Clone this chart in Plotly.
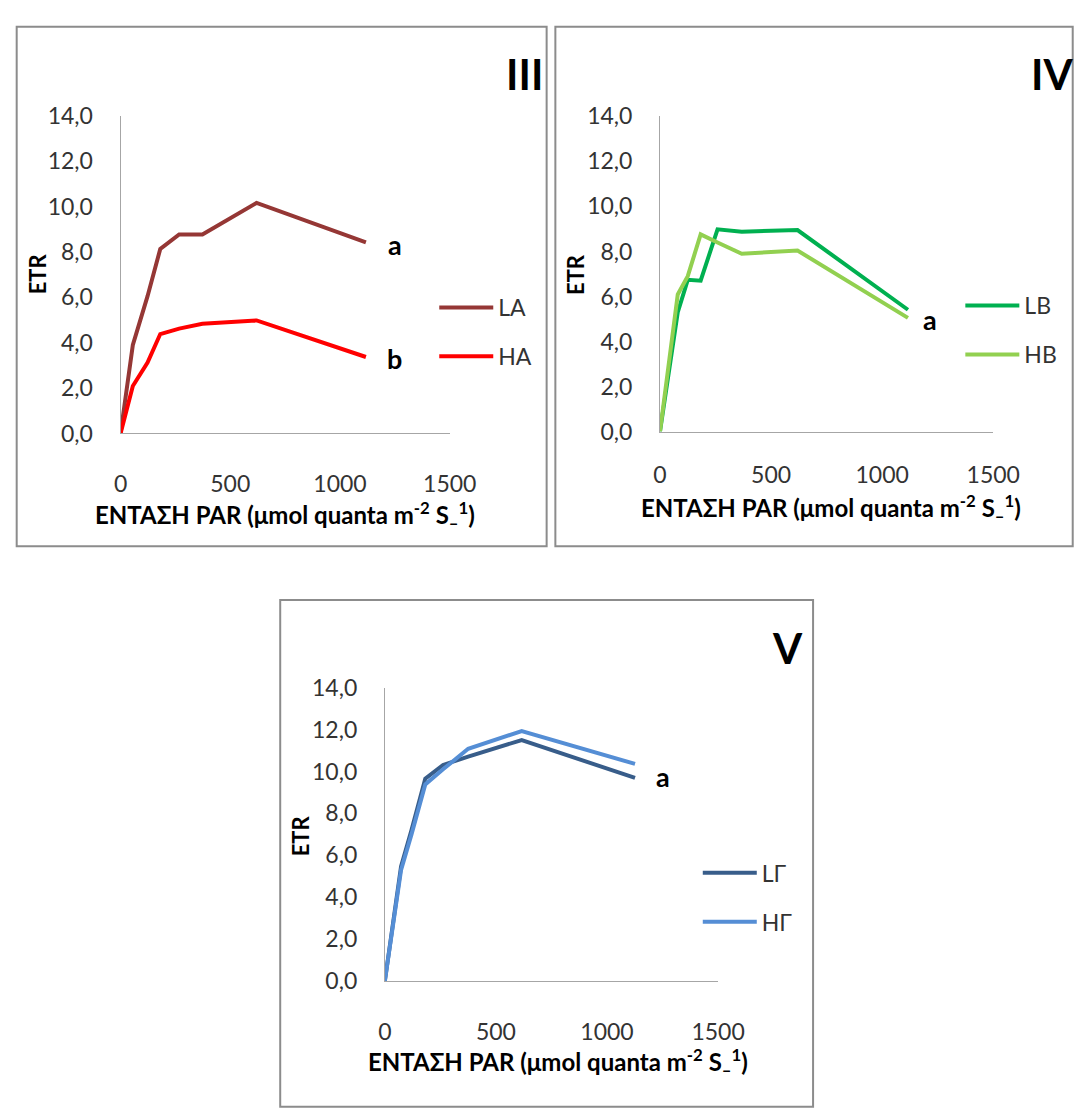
import plotly.graph_objects as go

# ---------------- data ----------------
PAR_III = [0, 56, 123, 181, 267, 373, 620, 1118]
LA = [0, 3.90, 6.05, 8.13, 8.77, 8.77, 10.16, 8.42]
HA = [0, 2.09, 3.12, 4.38, 4.62, 4.83, 4.98, 3.37]

PAR_IV = [0, 80, 125, 183, 259, 368, 619, 1116]
LB = [0, 5.30, 6.74, 6.70, 8.98, 8.88, 8.95, 5.41]
HB = [0, 6.09, 6.90, 8.76, 8.40, 7.90, 8.04, 5.05]

PAR_V = [0, 73, 120, 182, 262, 375, 616, 1126]
LG = [0, 5.47, 7.20, 9.66, 10.31, 10.71, 11.50, 9.69]
HG = [0, 5.30, 7.00, 9.38, 10.10, 11.08, 11.93, 10.36]

X_TICKS = [0, 500, 1000, 1500]
Y_RANGE = [0, 14]
X_RANGE = [0, 1500]

W, H = 1091, 1111
FONT = "Lato, 'Open Sans', 'Noto Sans', sans-serif"


def px(x):
    return x / W


def py(y):
    return 1 - y / H


fig = go.Figure()

series = [
    (PAR_III, LA, "LA", "#953735", "x", "y", "legend"),
    (PAR_III, HA, "HA", "#FF0000", "x", "y", "legend"),
    (PAR_IV, LB, "LB", "#00B050", "x2", "y2", "legend2"),
    (PAR_IV, HB, "HB", "#92D050", "x2", "y2", "legend2"),
    (PAR_V, LG, "LΓ", "#385D8A", "x3", "y3", "legend3"),
    (PAR_V, HG, "HΓ", "#558ED5", "x3", "y3", "legend3"),
]
for xs, ys, name, col, xa, ya, lg in series:
    fig.add_trace(go.Scatter(
        x=xs, y=ys, name=name, mode="lines", xaxis=xa, yaxis=ya,
        legend=lg, legendgroup=name,
        line=dict(color=col, width=4),
        hoverinfo="skip",
    ))

axis_common = dict(showline=True, linecolor="#A6A6A6", linewidth=1,
                   showgrid=False, zeroline=False, ticks="",
                   tickfont=dict(family=FONT, size=23, color="#333333"))

panels = {
    # name: (x0, x1, ytop, ybottom, x-label standoff) in pixels
    "1": (117.2, 457.0, 103.3, 429.3, 30),
    "2": (674.0, 1018.0, 104.0, 427.3, 23),
    "3": (390.0, 734.0, 690.0, 991.0, 30),
}

layout = dict(
    width=W, height=H,
    margin=dict(l=0, r=0, t=0, b=0),
    paper_bgcolor="white", plot_bgcolor="white",
    separators=",.",
    font=dict(family=FONT, color="#333333"),
)

for k, (x0, x1, yt, yb, so) in panels.items():
    sfx = "" if k == "1" else k
    layout["xaxis" + sfx] = dict(
        axis_common, domain=[px(x0), px(x1)], range=X_RANGE,
        tickvals=X_TICKS, anchor="y" + sfx, ticklabelstandoff=so)
    layout["yaxis" + sfx] = dict(
        axis_common, domain=[py(yb), py(yt)], range=Y_RANGE,
        dtick=2, tickformat=".1f", anchor="x" + sfx, ticklabelstandoff=22)

leg_common = dict(bgcolor="rgba(0,0,0,0)", borderwidth=0,
                  font=dict(family=FONT, size=23, color="#333333"),
                  xanchor="left", yanchor="top", tracegroupgap=16,
                  itemwidth=54,
                  itemclick=False, itemdoubleclick=False)
layout["legend"] = dict(leg_common, x=px(441), y=py(278))
layout["legend2"] = dict(leg_common, x=px(984), y=py(276))
layout["legend3"] = dict(leg_common, x=px(713), y=py(858))
layout["showlegend"] = True

fig.update_layout(**layout)

# panel frames
frames = [(10, 12, 557, 545), (566, 12, 1100, 545), (282, 600, 832, 1120)]
for x0, y0, x1, y1 in frames:
    fig.add_shape(type="rect", xref="paper", yref="paper",
                  x0=px(x0), x1=px(x1), y0=py(y1), y1=py(y0),
                  line=dict(color="#8C8C8C", width=2), fillcolor="rgba(0,0,0,0)",
                  layer="below")

xtitle = "ΕΝΤΑΣΗ PAR (μmol quanta m<sup>-2</sup> S<sub>–</sub><sup>1</sup>)"
annots = [
    # text, x, y, size, bold, xanchor, angle
    ("III", 534, 61, 42, True, "center", 0),
    ("IV", 1055, 61, 42, True, "left", 0),
    ("V", 806, 649, 42, True, "center", 0),
    ("ETR", 31, 266, 22, True, "center", -90),
    ("ETR", 587, 266, 22, True, "center", -90),
    ("ETR", 303, 842, 22, True, "center", -90),
    (xtitle, 287, 513, 24, True, "center", 0),
    (xtitle, 850, 506, 24, True, "center", 0),
    (xtitle, 569, 1074, 24, True, "center", 0),
    ("a", 400, 235, 27, True, "center", 0),
    ("b", 400, 352, 27, True, "center", 0),
    ("a", 953, 312, 27, True, "center", 0),
    ("a", 677, 781, 27, True, "center", 0),
]
for text, x, y, size, bold, xa, ang in annots:
    fig.add_annotation(
        text=f"<b>{text}</b>" if bold else text,
        x=px(x), y=py(y), xref="paper", yref="paper",
        xanchor=xa, yanchor="middle", showarrow=False, textangle=ang,
        font=dict(family=FONT, size=size, color="#000000"))

fig.write_html("out.html")
